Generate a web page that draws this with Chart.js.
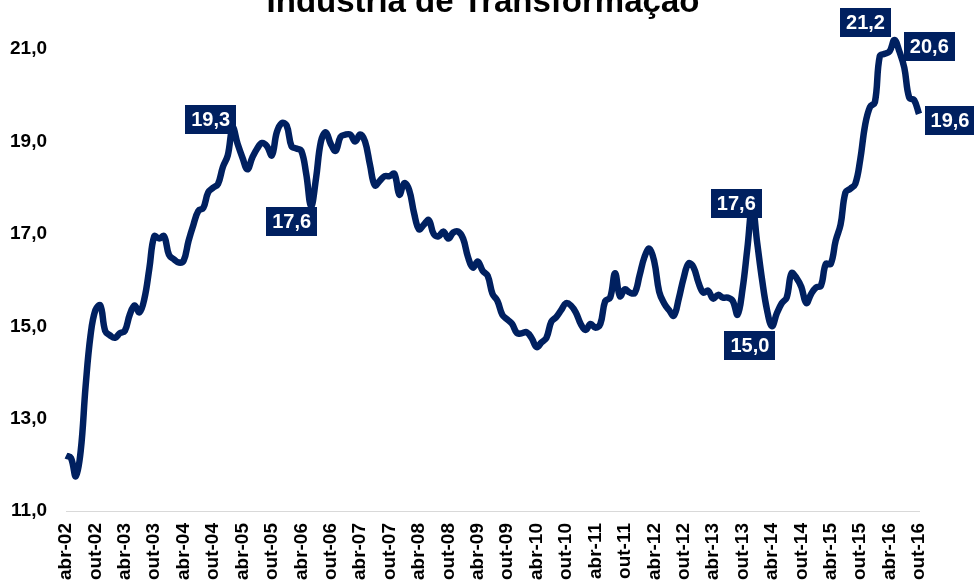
<!DOCTYPE html>
<html><head><meta charset="utf-8">
<script src="https://cdn.jsdelivr.net/npm/chart.js@4/dist/chart.umd.min.js"></script>
<style>html,body{margin:0;padding:0;background:#fff;overflow:hidden}#wrap{width:974px;height:583px;position:relative}</style>
</head><body><div id="wrap"><canvas id="c" width="974" height="583"></canvas></div>
<script>
// ---- DATA ----
const titleText = 'Indústria de Transformação';
const monthNames = ['jan','fev','mar','abr','mai','jun','jul','ago','set','out','nov','dez'];
const firstYear = 2002, firstMonth = 3; // abr-02
const industria = [
 12.2,12.15,11.75,12.3,13.7,14.8,15.35,15.45,14.9,14.8,14.75,14.85,
 14.9,15.25,15.45,15.3,15.6,16.25,16.95,16.9,16.95,16.55,16.45,16.38,
 16.42,16.85,17.2,17.5,17.56,17.9,18.0,18.08,18.45,18.7,19.3,18.95,
 18.65,18.4,18.65,18.85,18.97,18.9,18.7,19.2,19.4,19.35,18.9,18.85,
 18.8,18.3,17.6,18.2,19.0,19.2,18.95,18.8,19.1,19.15,19.15,19.0,
 19.15,19.0,18.5,18.05,18.15,18.25,18.25,18.3,17.85,18.1,17.95,17.45,
 17.1,17.2,17.3,17.0,16.95,17.05,16.9,17.03,17.05,16.9,16.5,16.27,
 16.4,16.2,16.1,15.7,15.55,15.25,15.15,15.05,14.85,14.85,14.87,14.74,
 14.55,14.65,14.75,15.1,15.2,15.35,15.5,15.45,15.3,15.05,14.92,15.05,
 14.97,15.05,15.55,15.62,16.15,15.65,15.8,15.73,15.72,16.1,16.5,16.68,
 16.4,15.75,15.5,15.35,15.23,15.6,16.05,16.36,16.28,15.95,15.73,15.77,
 15.6,15.68,15.62,15.62,15.55,15.25,15.8,16.7,17.6,16.8,16.0,15.35,
 15.0,15.28,15.5,15.62,16.15,16.05,15.85,15.5,15.7,15.84,15.88,16.35,
 16.35,16.85,17.2,17.9,17.98,18.08,18.6,19.35,19.75,19.85,20.85,20.9,
 20.95,21.2,20.95,20.6,19.95,19.9,19.6
];
const categories = industria.map((_, i) => {
  const m = firstMonth + i;
  return monthNames[m % 12] + '-' + String((firstYear + Math.floor(m / 12)) % 100).padStart(2, '0');
});
const tickLabels = ['abr-02','out-02','abr-03','out-03','abr-04','out-04','abr-05','out-05','abr-06','out-06',
  'abr-07','out-07','abr-08','out-08','abr-09','out-09','abr-10','out-10','abr-11','out-11',
  'abr-12','out-12','abr-13','out-13','abr-14','out-14','abr-15','out-15','abr-16','out-16'];
const yTicks = [11, 13, 15, 17, 19, 21];
const highlightIdx = [34, 50, 140, 144, 169, 171, 174];

// ---- STYLE / POSITIONS ----
const NAVY = '#002060';
const labelOffsets = [[-22,-8],[-19.5,15],[-16,-3],[-22,19],[-29,-17],[25,-21],[31,7]];
const fmt = v => v.toFixed(1).replace('.', ',');

const labelPlugin = {
  id: 'boxLabels',
  afterDatasetsDraw(chart) {
    const ctx = chart.ctx, xs = chart.scales.x, ys = chart.scales.y;
    ctx.save();
    ctx.font = 'bold 20px "Liberation Sans", Arial, sans-serif';
    ctx.textAlign = 'center'; ctx.textBaseline = 'middle';
    highlightIdx.forEach((idx, k) => {
      const px = xs.getPixelForValue(idx), py = ys.getPixelForValue(industria[idx]);
      const cx = px + labelOffsets[k][0], cy = py + labelOffsets[k][1];
      const txt = fmt(industria[idx]);
      const w = ctx.measureText(txt).width + 12, h = 29;
      ctx.fillStyle = NAVY;
      ctx.fillRect(Math.round(cx - w / 2), Math.round(cy - h / 2), Math.round(w), h);
      ctx.fillStyle = '#ffffff';
      ctx.fillText(txt, cx, cy + 1);
    });
    ctx.restore();
  }
};
const titlePlugin = {
  id: 'cutTitle',
  afterDraw(chart) {
    const ctx = chart.ctx;
    ctx.save();
    ctx.font = 'bold 33px "Liberation Sans", Arial, sans-serif';
    ctx.fillStyle = '#000'; ctx.textAlign = 'center'; ctx.textBaseline = 'alphabetic';
    ctx.fillText(titleText, 483, 12);
    ctx.restore();
  }
};

new Chart(document.getElementById('c'), {
  type: 'line',
  data: { labels: categories, datasets: [{ data: industria, borderColor: NAVY, borderWidth: 6.5,
    pointRadius: 0, tension: 0.4, fill: false, borderCapStyle: 'butt', borderJoinStyle: 'round' }] },
  options: {
    responsive: false, animation: false, devicePixelRatio: 1,
    layout: { padding: { top: 3, right: 55, bottom: 0, left: 0 } },
    plugins: { legend: { display: false }, tooltip: { enabled: false }, title: { display: false } },
    scales: {
      x: {
        type: 'category', offset: false,
        grid: { display: false, drawTicks: false },
        border: { display: true, color: '#d9d9d9', width: 1 },
        ticks: { autoSkip: false, maxRotation: 90, minRotation: 90, padding: 12, color: '#000',
          font: { family: '"Liberation Sans", Arial, sans-serif', size: 19, weight: 'bold' },
          callback: function (v, i) { const l = categories[i]; return tickLabels.includes(l) ? l : null; } },
        afterFit: s => { s.height = 72; s.paddingLeft = 0; s.paddingRight = 0; }
      },
      y: {
        min: 11, max: 22,
        grid: { display: false, drawTicks: false },
        border: { display: false },
        afterBuildTicks: s => { s.ticks = yTicks.map(v => ({ value: v })); },
        ticks: { padding: 19, color: '#000',
          font: { family: '"Liberation Sans", Arial, sans-serif', size: 19, weight: 'bold' },
          callback: v => fmt(v) },
        afterFit: s => { s.width = 66; s.paddingTop = 0; s.paddingBottom = 0; }
      }
    }
  },
  plugins: [labelPlugin, titlePlugin]
});
</script></body></html>
